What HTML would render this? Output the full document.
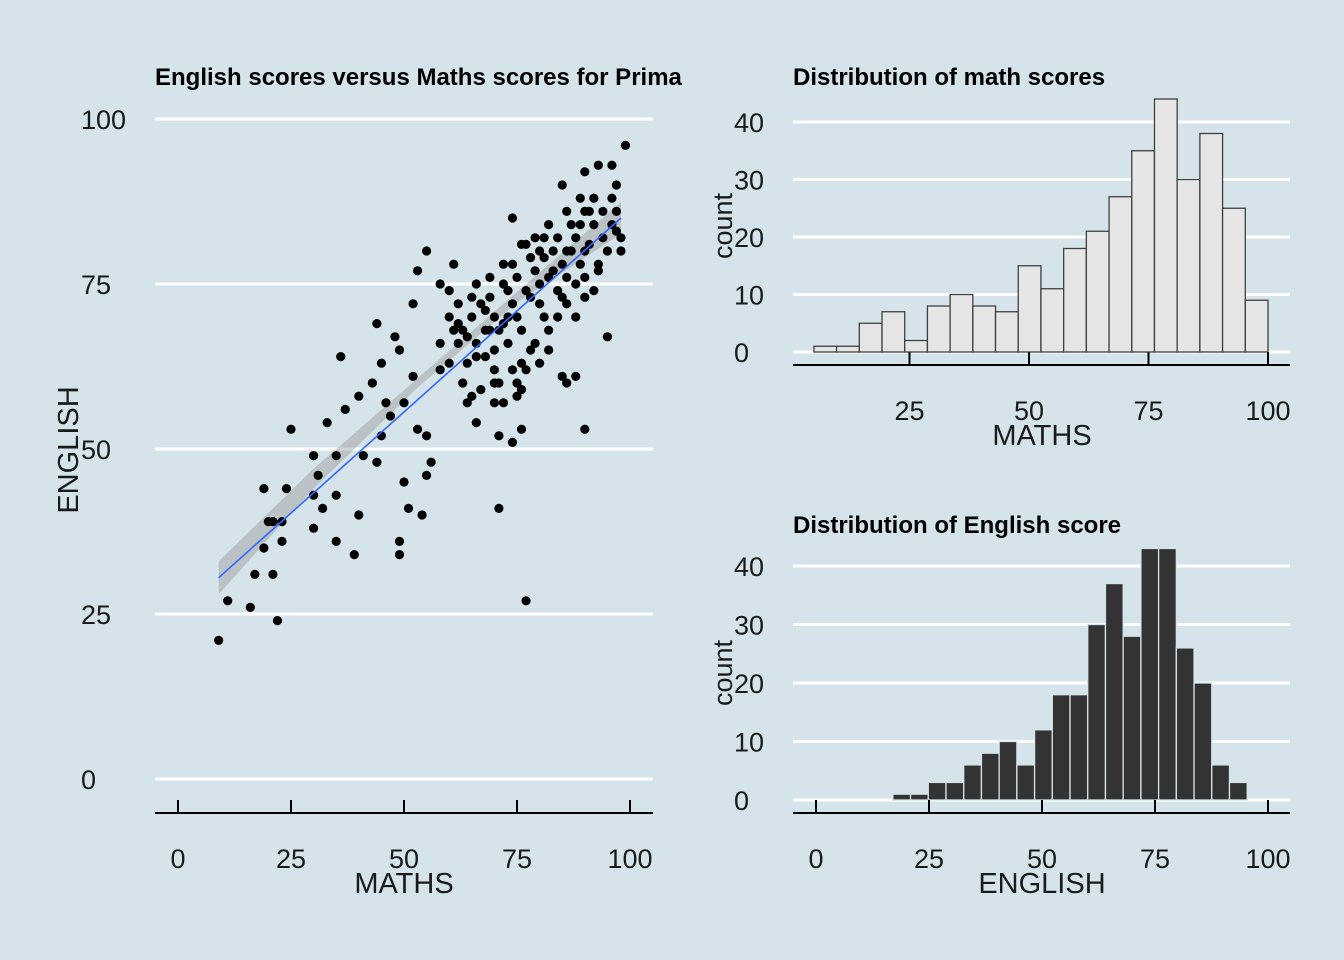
<!DOCTYPE html>
<html><head><meta charset="utf-8"><style>
body{margin:0;background:#d5e4eb;}
svg{display:block;font-family:"Liberation Sans",Arial,sans-serif;}
</style></head><body>
<svg id="c" width="1344" height="960">
<rect width="1344" height="960" fill="#d5e4eb"/>
</svg>
<script>
// ---- data ----
const mathScores=[9,11,16,22,19,20,19,21,25,24,23,23,17,21,30,31,30,32,33,36,35,35,35,30,37,39,40,40,41,43,44,44,45,45,46,47,48,49,49,49,50,50,52,52,51,54,53,55,53,55,56,55,58,58,60,61,61,62,63,64,65,66,66,68,69,70,69,71,71,71,72,73,73,74,75,76,76,77,76,74,78,79,80,81,81,82,83,85,85,86,87,88,89,90,90,90,91,93,94,95,96,97,97,98,99,96,93,90,85,86,88,
60,62,63,64,65,66,67,68,69,70,70,71,72,73,74,75,75,76,77,78,79,80,80,81,82,83,84,85,86,87,88,89,90,91,92,93,94,95,96,97,98,92,89,86,84,82,79,77,74,72,70,68,66,64,62,60,58,72,75,77,78,80,82,84,86,88,90,92,74,76,70,67,65];
const englishScores=[21,27,26,24,35,39,44,39,53,44,39,36,31,31,49,46,43,41,54,64,49,43,36,38,56,34,40,58,49,60,69,48,63,52,57,55,67,65,36,34,57,45,72,61,41,40,53,52,77,80,48,46,62,75,74,78,68,66,60,57,73,54,64,71,76,57,68,60,52,41,78,74,66,51,58,63,53,27,81,85,73,66,75,82,79,68,77,61,73,80,84,75,78,73,53,86,81,77,82,67,88,90,83,80,96,93,93,92,90,60,61,
70,72,68,67,70,75,72,68,73,70,65,68,75,70,72,76,70,68,74,79,77,72,80,70,76,80,74,78,76,80,82,84,80,86,84,78,86,80,84,86,82,88,88,86,82,84,82,81,78,69,62,64,66,63,69,63,66,57,60,62,65,63,65,70,72,70,76,74,62,59,60,59,58];
const fitX=[9,98];
const fitY=[30.5,85];
const bandX=[9,30,53,75,98];
const bandLo=[28,44,59.3,72.2,82.6];
const bandHi=[33,47,60.7,73.8,87.4];
const mathBinStart=[5,9.75,14.5,19.25,24,28.75,33.5,38.25,43,47.75,52.5,57.25,62,66.75,71.5,76.25,81,85.75,90.5,95.25];
const mathBinW=4.75;
const mathCounts=[1,1,5,7,2,8,10,8,7,15,11,18,21,27,35,44,30,38,25,9];
const engBinStart=[17,20.92,24.84,28.76,32.68,36.6,40.52,44.44,48.36,52.28,56.2,60.12,64.04,67.96,71.88,75.8,79.72,83.64,87.56,91.48];
const engBinW=3.92;
const engCounts=[1,1,3,3,6,8,10,6,12,18,18,30,37,28,43,43,26,20,6,3];
const ticks100=[0,25,50,75,100];
const ticksHistX=[25,50,75,100];
const ticksCount=[0,10,20,30,40];

const svg=document.getElementById('c');
const NS='http://www.w3.org/2000/svg';
function mk(tag,attrs,parent){const e=document.createElementNS(NS,tag);for(const k in attrs)e.setAttribute(k,attrs[k]);(parent||svg).appendChild(e);return e;}
function txt(s,attrs){const e=mk('text',attrs);e.textContent=s;return e;}

// ---- scatter ----
const sx=v=>178+v*4.52, sy=v=>779-v*6.6;
const g1=mk('g',{});


ticks100.forEach(t=>{
  const l=mk('line',{x1:155,x2:653,y1:sy(t),y2:sy(t),stroke:'#fff','stroke-width':3},g1);
  
  const yl=txt(t,{x:81,y:sy(t)+10,'text-anchor':'start','font-size':27,fill:'#1a1a1a'});
  
  const tk=mk('line',{x1:sx(t),x2:sx(t),y1:800,y2:813,stroke:'#000','stroke-width':2},g1);
  
  const xl=txt(t,{x:sx(t),y:868,'text-anchor':'middle','font-size':27,fill:'#1a1a1a'});
  
});
const ax=mk('line',{x1:155,x2:653,y1:813,y2:813,stroke:'#000','stroke-width':2},g1);

let bp=bandX.map((x,i)=>sx(x)+','+sy(bandHi[i])).join(' ')+' '+bandX.slice().reverse().map((x,i)=>sx(x)+','+sy(bandLo[bandX.length-1-i])).join(' ');
const band=mk('polygon',{points:bp,fill:'#999','fill-opacity':0.45},g1);

mathScores.forEach((m,i)=>{
  const c=mk('circle',{cx:sx(m),cy:sy(englishScores[i]),r:4.6,fill:'#000'},g1);
  
});
const fl=mk('line',{x1:sx(fitX[0]),y1:sy(fitY[0]),x2:sx(fitX[1]),y2:sy(fitY[1]),stroke:'#3366ff','stroke-width':1.6},g1);

const t1=txt('English scores versus Maths scores for Prima',{x:155,y:85,'font-size':24,'font-weight':'bold',fill:'#000'});

const xt=txt('MATHS',{x:404,y:893,'text-anchor':'middle','font-size':29,fill:'#1a1a1a'});

const yt=txt('ENGLISH',{x:0,y:0,'text-anchor':'middle','font-size':29,fill:'#1a1a1a',transform:'translate(78,450) rotate(-90)'});


// ---- histograms ----
function hist(o){
  const hx=v=>o.x0+v*o.kx, hy=v=>o.y0-v*o.ky;
  const g=mk('g',{});
  
  
  ticksCount.forEach(t=>{
    const l=mk('line',{x1:793,x2:1290,y1:hy(t),y2:hy(t),stroke:'#fff','stroke-width':3},g);
    
    const yl=txt(t,{x:734,y:hy(t)+10,'text-anchor':'start','font-size':27,fill:'#1a1a1a'});
    
  });
  o.starts.forEach((s,i)=>{
    const r=mk('rect',{x:hx(s),y:hy(o.counts[i]),width:o.w*o.kx,height:o.counts[i]*o.ky,fill:o.fill,stroke:o.stroke,'stroke-width':1.3},g);
    
  });
  o.ticks.forEach(t=>{
    const tk=mk('line',{x1:hx(t),x2:hx(t),y1:o.y0,y2:o.axisY,stroke:'#000','stroke-width':2},g);
    
    const xl=txt(t,{x:hx(t),y:o.axisY+55,'text-anchor':'middle','font-size':27,fill:'#1a1a1a'});
    
  });
  const a=mk('line',{x1:793,x2:1290,y1:o.axisY,y2:o.axisY,stroke:'#000','stroke-width':2},g);
  
  const tt=txt(o.title,{x:793,y:o.titleY,'font-size':24,'font-weight':'bold',fill:'#000'});
  
  const xt=txt(o.xlab,{x:1042,y:o.axisY+80,'text-anchor':'middle','font-size':29,fill:'#1a1a1a'});
  
  const yt=txt('count',{x:0,y:0,'text-anchor':'middle','font-size':27,fill:'#1a1a1a',transform:'translate(732,'+o.countY+') rotate(-90)'});
  
}
hist({name:'math-histogram',x0:790,kx:4.78,y0:352,ky:5.75,axisY:365,starts:mathBinStart,w:mathBinW,counts:mathCounts,fill:'#e5e5e5',stroke:'#404040',ticks:ticksHistX,title:'Distribution of math scores',titleY:85,xlab:'MATHS',countY:226});
hist({name:'english-histogram',x0:816,kx:4.52,y0:800,ky:5.85,axisY:813,starts:engBinStart,w:engBinW,counts:engCounts,fill:'#333333',stroke:'#d5e4eb',ticks:ticks100,title:'Distribution of English score',titleY:533,xlab:'ENGLISH',countY:673});
</script>
</body></html>
